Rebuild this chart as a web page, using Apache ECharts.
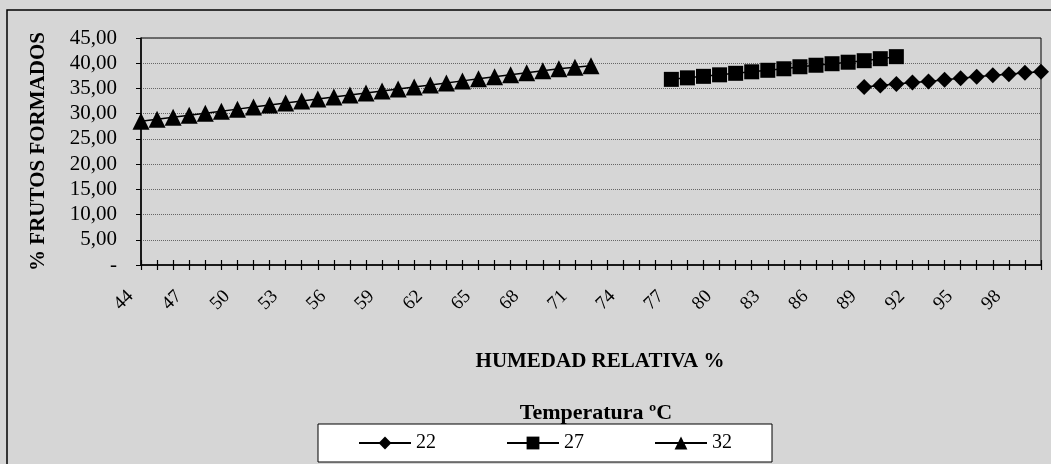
<!DOCTYPE html>
<html>
<head>
<meta charset="utf-8">
<script src="https://cdn.jsdelivr.net/npm/echarts@6/dist/echarts.min.js"></script>
<style>
html,body{margin:0;padding:0;background:#d6d6d6;}
#c{width:1051px;height:464px;}
</style>
</head>
<body>
<div id="c"></div>
<script>
// Categories: relative humidity %
const humidity = [];
for (let h = 44; h <= 100; h++) humidity.push(String(h));

// Series 22 °C (diamonds): humidity 89..100
const hum22 = ['89','90','91','92','93','94','95','96','97','98','99','100'];
const val22 = [35.3, 35.6, 35.9, 36.2, 36.4, 36.7, 37.0, 37.3, 37.6, 37.8, 38.1, 38.3];

// Series 27 °C (squares): humidity 77..91
const hum27 = ['77','78','79','80','81','82','83','84','85','86','87','88','89','90','91'];
const val27 = [36.8, 37.1, 37.4, 37.7, 38.0, 38.3, 38.6, 38.9, 39.3, 39.6, 39.9, 40.2, 40.5, 40.9, 41.3];

// Series 32 °C (triangles): humidity 44..72
const hum32 = ['44','45','46','47','48','49','50','51','52','53','54','55','56','57','58','59','60','61','62','63','64','65','66','67','68','69','70','71','72'];
const val32 = [28.5, 28.9, 29.3, 29.7, 30.1, 30.5, 30.9, 31.3, 31.7, 32.1, 32.5, 32.9, 33.3, 33.7, 34.1, 34.5, 34.9, 35.3, 35.7, 36.1, 36.5, 36.9, 37.3, 37.7, 38.1, 38.5, 38.9, 39.2, 39.5];

const yTicks = [0, 5, 10, 15, 20, 25, 30, 35, 40, 45];

const serif = '"Liberation Serif", "DejaVu Serif", serif';
const pairs = (xs, ys) => xs.map((x, i) => [x, ys[i]]);

const chart = echarts.init(document.getElementById('c'));
const mkSeries = (name, xs, ys, symbol, size) => ({
  name: name,
  type: 'line',
  xAxisIndex: 0,
  data: pairs(xs, ys),
  symbol: symbol,
  symbolSize: size,
  showAllSymbol: true,
  lineStyle: {color: '#000', width: 1.5},
  itemStyle: {color: '#000'},
  animation: false
});

chart.setOption({
  backgroundColor: '#d6d6d6',
  animation: false,
  graphic: [
    {type: 'rect', shape: {x: 7, y: 10, width: 1060, height: 470}, style: {fill: 'none', stroke: '#000', lineWidth: 1.5}, silent: true},
    {type: 'text', x: 596, y: 413, style: {text: 'Temperatura ºC', font: 'bold 22px ' + serif, fill: '#000', textAlign: 'center', textVerticalAlign: 'middle'}}
  ],
  grid: {left: 141, right: 10, top: 38, bottom: 199, show: true, borderColor: '#000', borderWidth: 1, backgroundColor: 'transparent'},
  legend: {
    left: 318, top: 424,
    backgroundColor: '#fff', borderColor: '#000', borderWidth: 1,
    padding: [9, 40], itemGap: 70, itemWidth: 52, itemHeight: 16,
    textStyle: {fontFamily: serif, fontSize: 20, color: '#000'},
    data: ['22', '27', '32']
  },
  xAxis: [{
    type: 'category', data: humidity, boundaryGap: false,
    name: 'HUMEDAD RELATIVA %', nameLocation: 'middle', nameGap: 86,
    nameTextStyle: {fontFamily: serif, fontWeight: 'bold', fontSize: 21, color: '#000', padding: [0, 0, 0, 18]},
    axisLine: {lineStyle: {color: '#000', width: 1.5}},
    axisTick: {show: true, interval: 0, length: 5, lineStyle: {color: '#000', width: 1.2}},
    axisLabel: {interval: 2, rotate: 45, margin: 18, padding: [0, 15, 0, 0], fontFamily: serif, fontSize: 19, color: '#000'},
    splitLine: {show: false}
  }, {
    type: 'category', data: humidity, boundaryGap: false, position: 'bottom',
    axisLine: {show: false},
    axisTick: {show: true, inside: true, interval: 0, length: 5, lineStyle: {color: '#000', width: 1.2}},
    axisLabel: {show: false}, splitLine: {show: false}
  }],
  yAxis: {
    type: 'value', min: 0, max: 45, interval: 5,
    name: '% FRUTOS FORMADOS', nameLocation: 'middle', nameGap: 92,
    nameTextStyle: {fontFamily: serif, fontWeight: 'bold', fontSize: 21, color: '#000'},
    axisLine: {show: true, lineStyle: {color: '#000', width: 1.5}},
    axisTick: {show: true, length: 5, lineStyle: {color: '#000'}},
    axisLabel: {margin: 24, fontFamily: serif, fontSize: 21, color: '#000',
      formatter: v => yTicks.indexOf(v) === 0 ? '-' : v.toFixed(2).replace('.', ',')},
    splitLine: {show: true, lineStyle: {color: '#666', type: 'dotted', width: 1}}
  },
  series: [
    mkSeries('22', hum22, val22, 'diamond', 16),
    mkSeries('27', hum27, val27, 'rect', 15),
    mkSeries('32', hum32, val32, 'triangle', 17)
  ]
});
</script>
</body>
</html>
